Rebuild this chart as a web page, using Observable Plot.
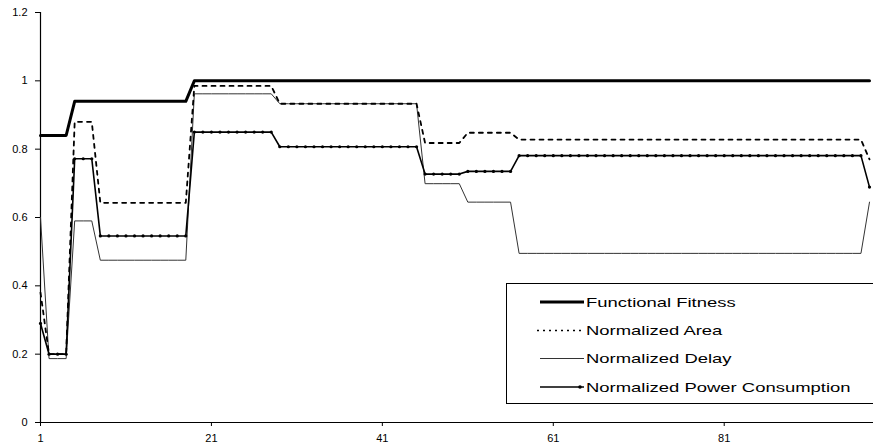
<!DOCTYPE html>
<html><head><meta charset="utf-8">
<script src="https://cdn.jsdelivr.net/npm/d3@7"></script>
<script src="https://cdn.jsdelivr.net/npm/@observablehq/plot@0.6"></script>
<style>
body{margin:0;background:#fff;}
#wrap{position:relative;width:873px;height:446px;font-family:"Liberation Sans",Arial,sans-serif;}
#legend{position:absolute;left:506px;top:283px;}
</style></head><body><div id="wrap"></div>
<script>
// x = iteration 1..98
const functionalFitness = [
0.84,0.84,0.84,0.84,0.94,0.94,0.94,0.94,0.94,0.94,
0.94,0.94,0.94,0.94,0.94,0.94,0.94,0.94,1,1,
1,1,1,1,1,1,1,1,1,1,
1,1,1,1,1,1,1,1,1,1,
1,1,1,1,1,1,1,1,1,1,
1,1,1,1,1,1,1,1,1,1,
1,1,1,1,1,1,1,1,1,1,
1,1,1,1,1,1,1,1,1,1,
1,1,1,1,1,1,1,1,1,1,
1,1,1,1,1,1,1,1];
const normalizedArea = [
0.38,0.2,0.2,0.2,0.88,0.88,0.88,0.643,0.643,0.643,
0.643,0.643,0.643,0.643,0.643,0.643,0.643,0.643,0.985,0.985,
0.985,0.985,0.985,0.985,0.985,0.985,0.985,0.985,0.933,0.933,
0.933,0.933,0.933,0.933,0.933,0.933,0.933,0.933,0.933,0.933,
0.933,0.933,0.933,0.933,0.933,0.818,0.818,0.818,0.818,0.818,
0.848,0.848,0.848,0.848,0.848,0.848,0.828,0.828,0.828,0.828,
0.828,0.828,0.828,0.828,0.828,0.828,0.828,0.828,0.828,0.828,
0.828,0.828,0.828,0.828,0.828,0.828,0.828,0.828,0.828,0.828,
0.828,0.828,0.828,0.828,0.828,0.828,0.828,0.828,0.828,0.828,
0.828,0.828,0.828,0.828,0.828,0.828,0.828,0.77];
const normalizedDelay = [
0.6,0.187,0.187,0.187,0.59,0.59,0.59,0.475,0.475,0.475,
0.475,0.475,0.475,0.475,0.475,0.475,0.475,0.475,0.962,0.962,
0.962,0.962,0.962,0.962,0.962,0.962,0.962,0.962,0.933,0.933,
0.933,0.933,0.933,0.933,0.933,0.933,0.933,0.933,0.933,0.933,
0.933,0.933,0.933,0.933,0.933,0.699,0.699,0.699,0.699,0.699,
0.645,0.645,0.645,0.645,0.645,0.645,0.495,0.495,0.495,0.495,
0.495,0.495,0.495,0.495,0.495,0.495,0.495,0.495,0.495,0.495,
0.495,0.495,0.495,0.495,0.495,0.495,0.495,0.495,0.495,0.495,
0.495,0.495,0.495,0.495,0.495,0.495,0.495,0.495,0.495,0.495,
0.495,0.495,0.495,0.495,0.495,0.495,0.495,0.645];
const normalizedPower = [
0.29,0.2,0.2,0.2,0.772,0.772,0.772,0.546,0.546,0.546,
0.546,0.546,0.546,0.546,0.546,0.546,0.546,0.546,0.85,0.85,
0.85,0.85,0.85,0.85,0.85,0.85,0.85,0.85,0.807,0.807,
0.807,0.807,0.807,0.807,0.807,0.807,0.807,0.807,0.807,0.807,
0.807,0.807,0.807,0.807,0.807,0.727,0.727,0.727,0.727,0.727,
0.735,0.735,0.735,0.735,0.735,0.735,0.781,0.781,0.781,0.781,
0.781,0.781,0.781,0.781,0.781,0.781,0.781,0.781,0.781,0.781,
0.781,0.781,0.781,0.781,0.781,0.781,0.781,0.781,0.781,0.781,
0.781,0.781,0.781,0.781,0.781,0.781,0.781,0.781,0.781,0.781,
0.781,0.781,0.781,0.781,0.781,0.781,0.781,0.689];
const seriesNames = ["Functional Fitness","Normalized Area","Normalized Delay","Normalized Power Consumption"];
const xTicks = [1,21,41,61,81];
const yTicks = [0,0.2,0.4,0.6,0.8,1,1.2];
const yTickLabels = ["0","0.2","0.4","0.6","0.8","1","1.2"];

const toRows = (vals) => vals.map((v,i)=>({x:i+1, v}));
const ff = toRows(functionalFitness), area = toRows(normalizedArea),
      delay = toRows(normalizedDelay), power = toRows(normalizedPower);

const chart = Plot.plot({
  width:873, height:446,
  marginLeft:40, marginRight:0, marginTop:12, marginBottom:24,
  style:{fontFamily:"'Liberation Sans',Arial,sans-serif", fontSize:"11px", background:"#fff"},
  x:{domain:[1,98], range:[40,869], label:null},
  y:{domain:[0,1.2], range:[422,12], label:null},
  marks:[
    Plot.ruleY([0],{stroke:"#000",strokeWidth:1.2}),
    Plot.ruleX([1],{stroke:"#000",strokeWidth:1.2}),
    Plot.axisY({ticks:yTicks, tickFormat:d=>yTickLabels[yTicks.indexOf(d)], tickSize:5, tickPadding:8, fontSize:11, label:null}),
    Plot.axisX({ticks:xTicks, tickSize:4, tickPadding:8, fontSize:11, label:null}),
    Plot.line(delay,{x:"x",y:"v",stroke:"#333",strokeWidth:1}),
    Plot.line(area,{x:"x",y:"v",stroke:"#000",strokeWidth:1.8,strokeDasharray:"4,5"}),
    Plot.line(power,{x:"x",y:"v",stroke:"#000",strokeWidth:1.6}),
    Plot.dot(power,{x:"x",y:"v",r:1.6,fill:"#000",stroke:"none"}),
    Plot.line(ff,{x:"x",y:"v",stroke:"#000",strokeWidth:3})
  ]
});
const wrap = document.getElementById("wrap");
wrap.appendChild(chart);

// legend box
const ns="http://www.w3.org/2000/svg";
const lg = document.createElementNS(ns,"svg");
lg.setAttribute("id","legend");
lg.setAttribute("width","367");
lg.setAttribute("height","122");
const styles = [
  {w:3, dash:null, color:"#000", marker:false, x1:34, x2:78},
  {w:1.6, dash:"2,4", color:"#000", marker:false, x1:31, x2:76},
  {w:1, dash:null, color:"#333", marker:false, x1:34, x2:78},
  {w:1.4, dash:null, color:"#000", marker:true, x1:34, x2:78}
];
const rowsY = [19,47.5,75.5,104];
const rect = document.createElementNS(ns,"rect");
rect.setAttribute("x","0.5");rect.setAttribute("y","0.5");
rect.setAttribute("width","370");rect.setAttribute("height","120");
rect.setAttribute("fill","#fff");rect.setAttribute("stroke","#000");
lg.appendChild(rect);
seriesNames.forEach((name,i)=>{
  const s=styles[i], y=rowsY[i];
  const ln=document.createElementNS(ns,"line");
  ln.setAttribute("x1",s.x1);ln.setAttribute("x2",s.x2);
  ln.setAttribute("y1",y);ln.setAttribute("y2",y);
  ln.setAttribute("stroke",s.color);ln.setAttribute("stroke-width",s.w);
  if(s.dash) ln.setAttribute("stroke-dasharray",s.dash);
  lg.appendChild(ln);
  if(s.marker){
    const c=document.createElementNS(ns,"circle");
    c.setAttribute("cx",74);c.setAttribute("cy",y);c.setAttribute("r",1.8);
    lg.appendChild(c);
  }
  const t=document.createElementNS(ns,"text");
  t.setAttribute("transform",`translate(80,${y+4.5}) scale(1.42,1)`);
  t.setAttribute("font-size","13");
  t.setAttribute("font-family","'Liberation Sans',Arial,sans-serif");
  t.setAttribute("fill","#000");
  t.textContent=name;
  lg.appendChild(t);
});
wrap.appendChild(lg);
</script>
</body></html>
